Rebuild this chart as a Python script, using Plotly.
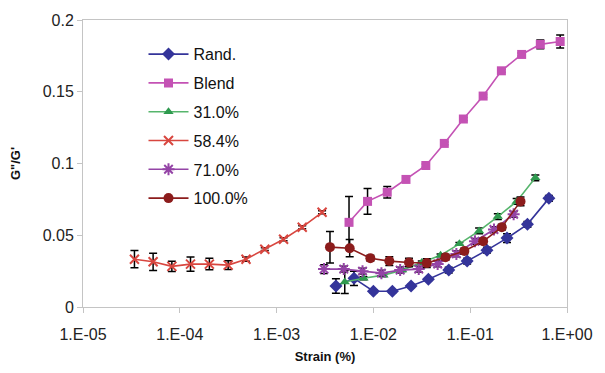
import plotly.graph_objects as go

# Strain (%) and G''/G' for each sample, with standard-deviation error bars
rand_x = [0.0041, 0.0063, 0.0100, 0.0157, 0.0245, 0.037, 0.060, 0.093, 0.149, 0.24, 0.39, 0.65]
rand_y = [0.0146, 0.0200, 0.0110, 0.0110, 0.0146, 0.0194, 0.0257, 0.0320, 0.0396, 0.0480, 0.0576, 0.0757]
rand_e = [0.005, 0.005, 0.001, 0.001, 0.001, 0.001, 0.002, 0.002, 0.002, 0.003, 0.002, 0.002]

blend_x = [0.0056, 0.0087, 0.0139, 0.0217, 0.0348, 0.054, 0.085, 0.136, 0.21, 0.34, 0.53, 0.85]
blend_y = [0.059, 0.0736, 0.080, 0.0889, 0.0986, 0.114, 0.131, 0.147, 0.1646, 0.176, 0.183, 0.185]
blend_e = [0.018, 0.009, 0.004, 0.001, 0.001, 0.001, 0.001, 0.001, 0.001, 0.001, 0.003, 0.0045]

p31_x = [0.00506, 0.0079, 0.0127, 0.0198, 0.0316, 0.0494, 0.0773, 0.1236, 0.193, 0.302, 0.471]
p31_y = [0.0174, 0.0200, 0.0222, 0.0257, 0.031, 0.036, 0.044, 0.053, 0.063, 0.0736, 0.090]
p31_e = [0.008, 0.001, 0.001, 0.001, 0.001, 0.001, 0.001, 0.002, 0.002, 0.002, 0.002]

p58_x = [3.40e-5, 5.30e-5, 8.28e-5, 1.29e-4, 2.02e-4, 3.16e-4, 4.83e-4, 7.55e-4, 1.18e-3, 1.84e-3, 2.95e-3]
p58_y = [0.0333, 0.0315, 0.0283, 0.0299, 0.0299, 0.0292, 0.0333, 0.0403, 0.0472, 0.0556, 0.066]
p58_e = [0.006, 0.006, 0.0035, 0.005, 0.004, 0.003, 0.0015, 0.001, 0.001, 0.001, 0.001]

p71_x = [3.09e-3, 4.94e-3, 7.72e-3, 1.21e-2, 1.89e-2, 2.94e-2, 4.61e-2, 7.2e-2, 0.112, 0.176, 0.281]
p71_y = [0.0264, 0.0264, 0.025, 0.0236, 0.0257, 0.0264, 0.030, 0.037, 0.0458, 0.054, 0.0646]
p71_e = [0.003, 0.002, 0.002, 0.002, 0.002, 0.002, 0.002, 0.002, 0.002, 0.002, 0.002]

p100_x = [3.56e-3, 5.69e-3, 9.3e-3, 1.46e-2, 2.33e-2, 3.56e-2, 5.56e-2, 8.7e-2, 0.136, 0.212, 0.331]
p100_y = [0.0417, 0.041, 0.034, 0.032, 0.031, 0.0306, 0.0347, 0.039, 0.0458, 0.0556, 0.0736]
p100_e = [0.011, 0.006, 0.002, 0.003, 0.003, 0.003, 0.002, 0.002, 0.002, 0.002, 0.003]

x_tickvals = [1e-5, 1e-4, 1e-3, 1e-2, 1e-1, 1e0]
x_ticktext = ["1.E-05", "1.E-04", "1.E-03", "1.E-02", "1.E-01", "1.E+00"]

FONT = "Liberation Sans, Arial, sans-serif"

series = [
    ("Rand.", rand_x, rand_y, rand_e, "#34349a", "#34349a", "diamond", 10, 0),
    ("Blend", blend_x, blend_y, blend_e, "#c452b4", "#c452b4", "square", 9, 0),
    ("31.0%", p31_x, p31_y, p31_e, "#56b56c", "#2f9a4f", "triangle-up", 9, 0),
    ("58.4%", p58_x, p58_y, p58_e, "#d8463f", "#d8463f", "x-thin-open", 9, 2),
    ("71.0%", p71_x, p71_y, p71_e, "#9444a6", "#9444a6", "asterisk-open", 10, 2),
    ("100.0%", p100_x, p100_y, p100_e, "#8c1c1c", "#8c1c1c", "circle", 10, 0),
]

fig = go.Figure()
for i, (name, xs, ys, es, lc, mc, sym, ms, mlw) in enumerate(series):
    marker = dict(symbol=sym, size=ms, color=mc)
    if mlw:
        marker["line"] = dict(color=mc, width=mlw)
    fig.add_trace(go.Scatter(
        x=xs, y=ys, name=name, mode="lines+markers",
        line=dict(color=lc, width=1.6),
        marker=marker,
        error_y=dict(type="data", array=es, visible=True,
                     color="black", thickness=1.5, width=4),
        legendgroup=f"g{i}",
    ))

axis_common = dict(
    showline=True, linecolor="#c4c4c4", linewidth=1, mirror=True,
    ticks="outside", ticklen=5, tickcolor="#c4c4c4",
    showgrid=False, zeroline=False,
    tickfont=dict(family=FONT, size=16, color="#222"),
)

fig.update_xaxes(
    type="log", range=[-5, 0],
    tickvals=x_tickvals, ticktext=x_ticktext,
    ticklabelstandoff=8,
    title=dict(text="<b>Strain (%)</b>", font=dict(family=FONT, size=13, color="#111"), standoff=9),
    **axis_common,
)
fig.update_yaxes(
    range=[0, 0.2], dtick=0.05, tick0=0,
    title=dict(text="<b>G\"/G'</b>", font=dict(family=FONT, size=13, color="#111"), standoff=19),
    **axis_common,
)

fig.update_layout(
    width=605, height=373,
    margin=dict(l=83, r=32, t=20, b=65),
    paper_bgcolor="white", plot_bgcolor="white",
    showlegend=True,
    legend=dict(
        x=0.125, y=0.94, xanchor="left", yanchor="top",
        bgcolor="rgba(0,0,0,0)", borderwidth=0,
        font=dict(family=FONT, size=16, color="#111"),
        itemwidth=40, tracegroupgap=5,
    ),
)

fig.write_html("out.html")
